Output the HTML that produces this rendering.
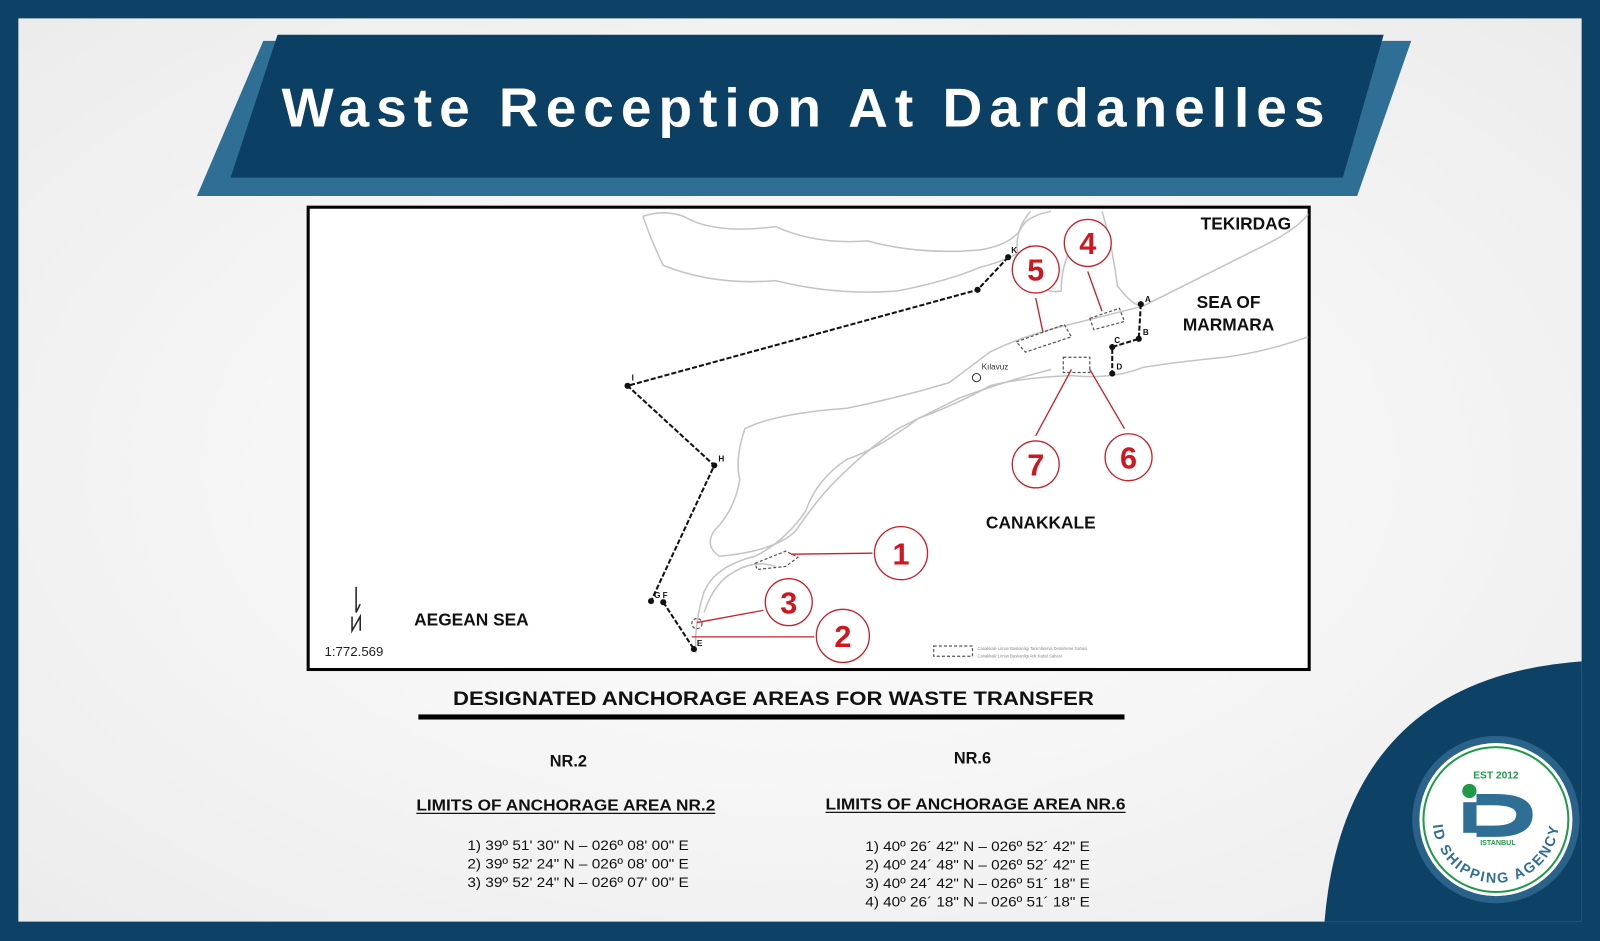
<!DOCTYPE html>
<html><head><meta charset="utf-8"><style>
html,body{margin:0;padding:0;background:#0d4266;}
svg{display:block;}
text{font-family:"Liberation Sans",Arial,sans-serif;}
</style></head><body>
<svg width="1600" height="941" viewBox="0 0 1568 922" preserveAspectRatio="none" xmlns="http://www.w3.org/2000/svg">
<defs>
<radialGradient id="bg" cx="0.5" cy="0.5" r="0.7"><stop offset="0" stop-color="#ffffff"/><stop offset="1" stop-color="#ececec"/></radialGradient>
<path id="arcb" d="M1404,803 A62,62 0 0 0 1528,803"/>
</defs>
<rect width="1568" height="922" fill="#0d4266"/>
<rect x="18" y="18" width="1532" height="885" fill="url(#bg)"/>
<path d="M1298,903 Q1318,665 1550,648 L1550,903 Z" fill="#0d4266"/>
<!-- banner -->
<path d="M258,40 L1383,40 L1330,192 L193,192 Z" fill="#2f6f95"/>
<path d="M272,34 L1356,34 L1316,174 L226,174 Z" fill="#0b4064"/>
<text x="276" y="124" font-size="54" font-weight="bold" fill="#fff" textLength="1022" lengthAdjust="spacing">Waste Reception At Dardanelles</text>
<!-- map -->
<rect x="302" y="203" width="981" height="453" fill="#fff" stroke="#000" stroke-width="3"/>
<g fill="none" stroke="#c4c4c4" stroke-width="1.5">
<path d="M630,212 Q650,205 670,212 Q700,230 760,222 Q800,240 850,236 Q900,250 960,245 Q990,240 1000,225 Q1005,212 1030,207"/>
<path d="M630,212 Q640,240 650,260 Q700,280 760,275 Q820,290 880,285 Q930,275 960,262 Q990,255 1010,240"/>
<path d="M1010,207 Q990,230 1000,260 Q1020,290 1040,285 Q1040,250 1060,230"/>
<path d="M1080,207 Q1090,240 1095,280 Q1110,300 1120,300 Q1180,270 1240,240 Q1270,225 1282,210"/>
<path d="M1282,330 Q1240,345 1200,350 Q1150,355 1120,360 Q1090,372 1050,368 Q1000,370 970,378 Q940,395 900,410 Q860,440 830,450 Q800,470 790,500 Q770,530 740,545 Q700,555 690,580 Q680,610 682,640"/>
<path d="M1120,300 Q1080,310 1040,320 Q1000,330 970,345 Q950,360 930,375 Q880,390 830,400 Q760,405 730,420 Q720,450 725,470 Q720,500 700,520 Q690,535 705,545 Q760,540 780,520 Q800,490 820,470 Q850,440 880,420 Q910,405 940,390 Q990,372 1030,362"/>
<path d="M760,555 Q740,548 720,560 Q700,570 690,600"/>
</g>
<!-- dashed route -->
<g stroke="#111" stroke-width="2" fill="none" stroke-dasharray="5,2">
<polyline points="988,252 958,284 615,378 700,456 638,589"/>
<polyline points="650,590 680,636"/>
<polyline points="1118,298 1116,332 1090,340 1090,366"/>
</g>
<g fill="#111">
<circle cx="988" cy="252" r="3"/><circle cx="958" cy="284" r="3"/><circle cx="615" cy="378" r="3"/><circle cx="700" cy="456" r="3"/><circle cx="638" cy="589" r="3"/><circle cx="650" cy="590" r="3"/><circle cx="680" cy="636" r="3"/>
<circle cx="1118" cy="298" r="3"/><circle cx="1116" cy="332" r="3"/><circle cx="1090" cy="340" r="3"/><circle cx="1090" cy="366" r="3"/>
</g>
<g font-family="Liberation Serif,serif" font-size="8" fill="#111" font-weight="bold">
<text x="991" y="248">K</text><text x="619" y="373">I</text><text x="704" y="452">H</text><text x="641" y="586">G F</text><text x="683" y="633">E</text>
<text x="1122" y="296">A</text><text x="1120" y="328">B</text><text x="1092" y="336">C</text><text x="1094" y="362">D</text>
</g>
<text x="962" y="362" font-size="8" fill="#333">Kılavuz</text>
<circle cx="957" cy="370" r="4" fill="none" stroke="#333"/>
<!-- anchorage dashed boxes -->
<g fill="none" stroke="#555" stroke-width="1.2" stroke-dasharray="3,2">
<path d="M996,335 L1043,318 L1050,330 L1005,345 Z"/>
<path d="M1068,312 L1097,302 L1102,315 L1072,323 Z"/>
<rect x="1042" y="350" width="26" height="15"/>
<path d="M740,552 L770,540 L782,546 L770,555 L742,558 Z"/>
<circle cx="683" cy="611" r="5"/>
<rect x="915" y="633" width="38" height="10"/>
</g>
<g font-size="4" fill="#888"><text x="958" y="637">Canakkale Liman Baskanligi Tanimlanmis Demirleme Sahasi</text><text x="958" y="644">Canakkale Liman Baskanligi Atik Kabul Sahasi</text></g>
<!-- callouts -->
<g stroke="#c8202a" stroke-width="1.3" fill="#fff">
<line x1="1066" y1="266" x2="1080" y2="305"/>
<line x1="1015" y1="292" x2="1022" y2="325"/>
<line x1="1015" y1="427" x2="1050" y2="362"/>
<line x1="1102" y1="420" x2="1068" y2="362"/>
<line x1="855" y1="542" x2="775" y2="543"/>
<line x1="748" y1="598" x2="683" y2="610"/>
<line x1="798" y1="624" x2="678" y2="624"/>
<circle cx="1066" cy="238" r="23"/><circle cx="1015" cy="264" r="23"/><circle cx="1015" cy="455" r="23"/><circle cx="1106" cy="448" r="23"/><circle cx="883" cy="542" r="26"/><circle cx="773" cy="590" r="23"/><circle cx="826" cy="623" r="26"/>
</g>
<g fill="#d0161f" font-size="30" font-weight="bold" text-anchor="middle">
<text x="1066" y="249">4</text><text x="1015" y="275">5</text><text x="1015" y="466">7</text><text x="1106" y="459">6</text><text x="883" y="553">1</text><text x="773" y="601">3</text><text x="826" y="634">2</text>
</g>
<g font-size="17" font-weight="bold" fill="#111" text-anchor="middle">
<text x="1221" y="225">TEKIRDAG</text>
<text x="1204" y="302">SEA OF</text><text x="1204" y="324">MARMARA</text>
<text x="1020" y="518">CANAKKALE</text>
<text x="462" y="613">AEGEAN SEA</text>
</g>
<text x="318" y="643" font-family="Liberation Serif,serif" font-size="13" fill="#222">1:772.569</text>
<path d="M349,575 L349,600 L353,592 M345,604 L345,618 L353,604 L353,618" fill="none" stroke="#222" stroke-width="1.5"/>
<!-- bottom text -->
<text x="444" y="691" font-size="19" font-weight="bold" fill="#111" textLength="628" lengthAdjust="spacingAndGlyphs">DESIGNATED ANCHORAGE AREAS FOR WASTE TRANSFER</text>
<rect x="410" y="700" width="692" height="5" fill="#000"/>
<text x="557" y="751" text-anchor="middle" font-size="16" font-weight="bold" fill="#111">NR.2</text>
<text x="953" y="748" text-anchor="middle" font-size="16" font-weight="bold" fill="#111">NR.6</text>
<text x="408" y="794" font-size="15" font-weight="bold" fill="#111" textLength="293" lengthAdjust="spacingAndGlyphs">LIMITS OF ANCHORAGE AREA NR.2</text>
<line x1="408" y1="797" x2="701" y2="797" stroke="#111" stroke-width="1.2"/>
<text x="809" y="793" font-size="15" font-weight="bold" fill="#111" textLength="294" lengthAdjust="spacingAndGlyphs">LIMITS OF ANCHORAGE AREA NR.6</text>
<line x1="809" y1="796" x2="1103" y2="796" stroke="#111" stroke-width="1.2"/>
<g font-size="14" fill="#111" lengthAdjust="spacingAndGlyphs">
<text x="458" y="833" textLength="217" lengthAdjust="spacingAndGlyphs">1) 39º 51' 30" N – 026º 08' 00" E</text>
<text x="458" y="851" textLength="217" lengthAdjust="spacingAndGlyphs">2) 39º 52' 24" N – 026º 08' 00" E</text>
<text x="458" y="869" textLength="217" lengthAdjust="spacingAndGlyphs">3) 39º 52' 24" N – 026º 07' 00" E</text>
<text x="848" y="834" textLength="220" lengthAdjust="spacingAndGlyphs">1) 40º 26´ 42" N – 026º 52´ 42" E</text>
<text x="848" y="852" textLength="220" lengthAdjust="spacingAndGlyphs">2) 40º 24´ 48" N – 026º 52´ 42" E</text>
<text x="848" y="870" textLength="220" lengthAdjust="spacingAndGlyphs">3) 40º 24´ 42" N – 026º 51´ 18" E</text>
<text x="848" y="888" textLength="220" lengthAdjust="spacingAndGlyphs">4) 40º 26´ 18" N – 026º 51´ 18" E</text>
</g>
<!-- logo -->
<circle cx="1466" cy="803" r="82" fill="#2a628a"/>
<circle cx="1466" cy="803" r="75" fill="#fff"/>
<circle cx="1466" cy="803" r="71" fill="none" stroke="#1f9a48" stroke-width="2"/>
<text x="1466" y="763" text-anchor="middle" font-size="10" font-weight="bold" fill="#1f9a48">EST 2012</text>
<circle cx="1440" cy="775" r="7" fill="#1f9a48"/>
<rect x="1434" y="786" width="13" height="30" fill="#2f6f95"/>
<path d="M1447,778 L1465,778 Q1502,778 1502,798 Q1502,820 1465,820 L1447,820 L1447,809 L1463,809 Q1486,809 1486,798 Q1486,789 1463,789 L1447,789 Z" fill="#2f6f95"/>
<text x="1468" y="828" text-anchor="middle" font-size="7" font-weight="bold" fill="#1f9a48">ISTANBUL</text>
<text font-size="14" font-weight="bold" fill="#2f6f95" letter-spacing="2"><textPath href="#arcb" startOffset="50%" text-anchor="middle">ID SHIPPING AGENCY</textPath></text>
</svg>
</body></html>
